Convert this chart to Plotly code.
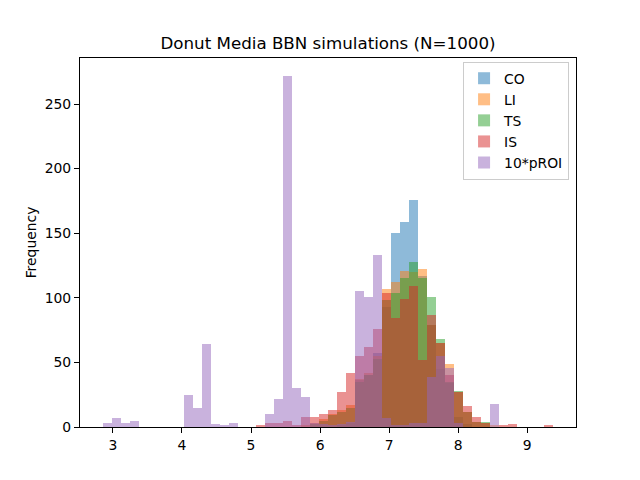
import numpy as np
import plotly.graph_objects as go

# Bin layout (50 common bins)
bin_lo, bin_hi, n_bins = 2.85, 9.38, 50

# Counts per bin
co = [0]*26 + [1, 3, 36, 40, 57, 93, 150, 159, 176, 117, 79, 45, 34, 8, 2] + [0]*9
li = [0]*22 + [1, 3, 6, 10, 13, 17, 37, 42, 55, 107, 112, 121, 120, 122, 79, 65, 49, 27, 12, 4, 3, 1] + [0]*6
ts = [0]*23 + [2, 5, 9, 12, 15, 35, 40, 53, 98, 104, 115, 128, 115, 101, 68, 35, 28, 12, 4, 4] + [0]*7
is_ = ([0]*17 + [1, 3, 3, 5, 1, 8, 8, 10, 13, 27, 42, 55, 62, 76, 104, 84, 99, 109, 52, 87, 65, 40, 27, 16, 8, 3]
       + [0, 1, 2, 0, 0, 0, 1])
proi = [3, 7, 3, 5, 0, 0, 0, 0, 0, 25, 15, 64, 2, 1, 3, 0, 0, 0, 10, 22, 272, 30, 23, 3, 2, 1, 2, 4,
        105, 101, 133, 7, 1, 1, 3, 3, 39, 55, 46, 3, 0, 0, 0, 18, 0, 0, 0, 0, 0, 0]

names = ['CO', 'LI', 'TS', 'IS', '10*pROI']
colors = ['#1f77b4', '#ff7f0e', '#2ca02c', '#d62728', '#9467bd']

edges = np.linspace(bin_lo, bin_hi, n_bins + 1)
centers = (edges[:-1] + edges[1:]) / 2
width = edges[1] - edges[0]

fig = go.Figure()
for name, counts, col in zip(names, [co, li, ts, is_, proi], colors):
    fig.add_trace(go.Bar(x=centers, y=counts, width=width, name=name,
                         marker=dict(color=col, line=dict(width=0)), opacity=0.5))

pad = 0.05 * (bin_hi - bin_lo)
axis_style = dict(showline=True, linecolor='black', linewidth=1.1, mirror=True,
                  ticks='outside', ticklen=5, tickwidth=1.1, tickcolor='black',
                  showgrid=False, zeroline=False,
                  tickfont=dict(family='DejaVu Sans', size=13.9, color='black'))

# page is shown with an 8px body offset, so margins are shifted to compensate
fig.update_layout(
    width=640, height=480,
    barmode='overlay', bargap=0,
    plot_bgcolor='white', paper_bgcolor='white',
    margin=dict(l=72, r=72, t=50, b=61),
    title=dict(text='Donut Media BBN simulations (N=1000)', x=0.5, xref='paper', xanchor='center',
               y=1 - 35 / 480, yanchor='middle',
               font=dict(family='DejaVu Sans', size=16.7, color='black')),
    xaxis=dict(range=[bin_lo - pad, bin_hi + pad], tickvals=[3, 4, 5, 6, 7, 8, 9], **axis_style),
    yaxis=dict(range=[0, 272 * 1.05], tickvals=[0, 50, 100, 150, 200, 250],
               title=dict(text='Frequency', standoff=4,
                          font=dict(family='DejaVu Sans', size=13.9, color='black')),
               **axis_style),
    legend=dict(x=0.986, y=0.99, xanchor='right', yanchor='top',
                bgcolor='rgba(255,255,255,0.8)', bordercolor='#cccccc', borderwidth=1,
                font=dict(family='DejaVu Sans', size=13.9, color='black')),
    showlegend=True,
)

fig.write_html("out.html")
